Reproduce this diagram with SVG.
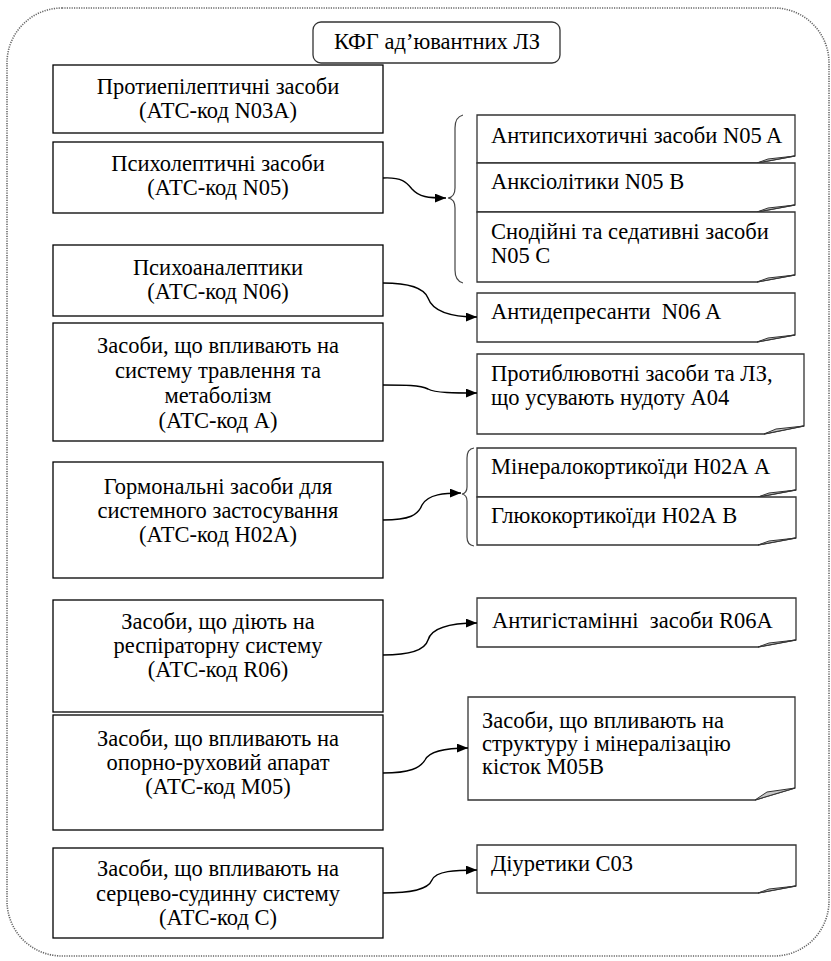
<svg xmlns="http://www.w3.org/2000/svg" width="831" height="961" viewBox="0 0 831 961">
<style>
  .frame{fill:#fff;stroke:#666;stroke-width:1.6;stroke-dasharray:1.2 1.2}
  .box{fill:#fff;stroke:#000;stroke-width:1.3}
  .note{fill:#fff;stroke:#333;stroke-width:1.3}
  .fold{fill:#c8c8c8;stroke:#333;stroke-width:1}
  text{font-family:'Liberation Serif','DejaVu Serif',serif;font-size:22.5px;fill:#000}
  .c{text-anchor:middle}
  .conn{fill:none;stroke:#000;stroke-width:1.4}
  .brace{fill:none;stroke:#444;stroke-width:1.2}
</style>
<defs>
  <marker id="arr" viewBox="0 0 10 8" refX="10" refY="4" markerWidth="11" markerHeight="9" markerUnits="userSpaceOnUse" orient="auto">
    <path d="M0,0 L10,4 L0,8 Z" fill="#000"/>
  </marker>
</defs>
<rect class="frame" x="7" y="8" width="822" height="948" rx="55" ry="55"/>

<g font-family="Liberation Serif, DejaVu Serif, serif" font-size="22.5">
<g id="title">
  <rect x="313" y="22" width="247" height="41" rx="8" ry="8" fill="#fff" stroke="#333" stroke-width="1.3"/>
  <text class="c" x="437" y="49">КФГ ад’ювантних ЛЗ</text>
</g>

<g id="n03a">
  <rect class="box" x="53" y="65" width="330" height="68"/>
  <text class="c" x="218" y="94">Протиепілептичні засоби</text>
  <text class="c" x="218" y="118">(АТС-код N03A)</text>
</g>
<g id="n05">
  <rect class="box" x="53" y="142" width="330" height="71"/>
  <text class="c" x="218" y="171">Психолептичні засоби</text>
  <text class="c" x="218" y="195">(АТС-код N05)</text>
</g>
<g id="n06">
  <rect class="box" x="53" y="245" width="330" height="71"/>
  <text class="c" x="218" y="275">Психоаналептики</text>
  <text class="c" x="218" y="299">(АТС-код N06)</text>
</g>
<g id="a">
  <rect class="box" x="53" y="323" width="330" height="118"/>
  <text class="c" x="218" y="353">Засоби, що впливають на</text>
  <text class="c" x="218" y="378">систему травлення та</text>
  <text class="c" x="218" y="403">метаболізм</text>
  <text class="c" x="218" y="428">(АТС-код А)</text>
</g>
<g id="h02a">
  <rect class="box" x="53" y="462" width="330" height="116"/>
  <text class="c" x="218" y="494">Гормональні засоби для</text>
  <text class="c" x="218" y="518">системного застосування</text>
  <text class="c" x="218" y="542">(АТС-код Н02А)</text>
</g>
<g id="r06">
  <rect class="box" x="53" y="600" width="330" height="112"/>
  <text class="c" x="218" y="629">Засоби, що діють на</text>
  <text class="c" x="218" y="653">респіраторну систему</text>
  <text class="c" x="218" y="677">(АТС-код R06)</text>
</g>
<g id="m05">
  <rect class="box" x="53" y="715" width="330" height="115"/>
  <text class="c" x="218" y="746">Засоби, що впливають на</text>
  <text class="c" x="218" y="770">опорно-руховий апарат</text>
  <text class="c" x="218" y="794">(АТС-код М05)</text>
</g>
<g id="c">
  <rect class="box" x="53" y="848" width="330" height="90"/>
  <text class="c" x="218" y="876">Засоби, що впливають на</text>
  <text class="c" x="218" y="901">серцево-судинну систему</text>
  <text class="c" x="218" y="925">(АТС-код С)</text>
</g>

<g id="n05a">
  <path class="note" d="M477,115 H795 V156 L757,163 H477 Z"/>
  <path class="fold" d="M757,163 L768,159 L795,156 Z"/>
  <text x="491" y="143">Антипсихотичні засоби N05 A</text>
</g>
<g id="n05b">
  <path class="note" d="M477,163 H795 V205 L757,212 H477 Z"/>
  <path class="fold" d="M757,212 L768,208 L795,205 Z"/>
  <text x="491" y="189">Анксіолітики N05 B</text>
</g>
<g id="n05c">
  <path class="note" d="M477,212 H795 V275 L757,282 H477 Z"/>
  <path class="fold" d="M757,282 L768,278 L795,275 Z"/>
  <text x="491" y="239">Снодійні та седативні засоби</text>
  <text x="491" y="263">N05 C</text>
</g>
<g id="n06a">
  <path class="note" d="M477,293 H795 V335 L757,342 H477 Z"/>
  <path class="fold" d="M757,342 L768,338 L795,335 Z"/>
  <text x="491" y="319" xml:space="preserve">Антидепресанти  N06 A</text>
</g>
<g id="a04">
  <path class="note" d="M477,354 H804 V426 L764,434 H477 Z"/>
  <path class="fold" d="M764,434 L776,429 L804,426 Z"/>
  <text x="491" y="381">Протиблювотні засоби та ЛЗ,</text>
  <text x="491" y="405">що усувають нудоту А04</text>
</g>
<g id="h02aa">
  <path class="note" d="M477,448 H796 V490 L758,497 H477 Z"/>
  <path class="fold" d="M758,497 L769,493 L796,490 Z"/>
  <text x="491" y="474">Мінералокортикоїди Н02А А</text>
</g>
<g id="h02ab">
  <path class="note" d="M477,497 H796 V538 L758,545 H477 Z"/>
  <path class="fold" d="M758,545 L769,541 L796,538 Z"/>
  <text x="491" y="523">Глюкокортикоїди Н02А В</text>
</g>
<g id="r06a">
  <path class="note" d="M477,598 H796 V640 L758,647 H477 Z"/>
  <path class="fold" d="M758,647 L769,643 L796,640 Z"/>
  <text x="492" y="628" xml:space="preserve">Антигістамінні  засоби R06A</text>
</g>
<g id="m05b">
  <path class="note" d="M468,697 H795 V788 L755,800 H468 Z"/>
  <path class="fold" d="M755,800 L767,792 L795,788 Z"/>
  <text x="482" y="728">Засоби, що впливають на</text>
  <text x="482" y="751">структуру і мінералізацію</text>
  <text x="482" y="774">кісток М05В</text>
</g>
<g id="c03">
  <path class="note" d="M477,845 H796 V886 L758,893 H477 Z"/>
  <path class="fold" d="M758,893 L769,889 L796,886 Z"/>
  <text x="491" y="871">Діуретики С03</text>
</g>
</g>

<g id="connectors">
  <path class="brace" d="M463,115 Q455,117 455,128 V188 Q455,197 448,198 Q455,199 455,208 V270 Q455,281 463,283"/>
  <path class="brace" d="M474,448 Q467,449 467,458 V487 Q467,493 462,494 Q467,495 467,501 V537 Q467,545 474,546"/>
  <path class="conn" marker-end="url(#arr)" d="M383,178 C403,177 407,183 412,189 C419,197 428,198 446,198"/>
  <path class="conn" marker-end="url(#arr)" d="M383,283 C410,283 424,288 428,298 C433,312 452,317 477,317"/>
  <path class="conn" marker-end="url(#arr)" d="M383,385 C405,385 420,385 428,389 C435,393 455,393 477,393"/>
  <path class="conn" marker-end="url(#arr)" d="M383,520 C410,520 418,515 422,505 C428,494 445,493 461,493"/>
  <path class="conn" marker-end="url(#arr)" d="M383,655 C410,655 425,650 428,640 C432,626 455,623 477,623"/>
  <path class="conn" marker-end="url(#arr)" d="M383,773 C410,773 420,768 425,760 C430,750 450,748 468,748"/>
  <path class="conn" marker-end="url(#arr)" d="M383,893 C410,893 428,890 432,880 C436,871 455,870 477,870"/>
</g>
</svg>
